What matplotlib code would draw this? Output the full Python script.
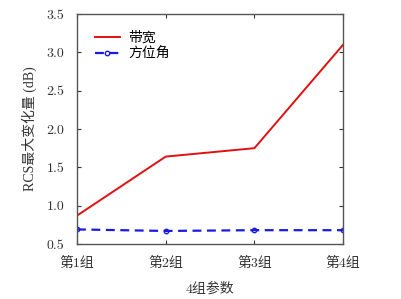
import matplotlib
matplotlib.use('Agg')
import matplotlib.pyplot as plt

groups = ['第1组', '第2组', '第3组', '第4组']
bandwidth = [0.87, 1.64, 1.75, 3.10]
azimuth = [0.69, 0.67, 0.68, 0.68]

plt.rcParams['font.family'] = ['cmr10', 'Noto Sans CJK SC', 'DejaVu Serif']
plt.rcParams['axes.formatter.use_mathtext'] = True

fig = plt.figure(figsize=(4.02, 2.99), dpi=100)
ax = fig.add_axes([0.1915, 0.184, 0.662, 0.769])

x = range(len(groups))
ax.plot(x, bandwidth, color='#e01010', lw=1.4, label='带宽')
ax.plot(x, azimuth, color='#1a1adf', lw=1.6, ls=(0, (4, 2.5)), marker='o',
        ms=3.2, mfc='none', mec='#1a1adf', mew=1.0, label='方位角')

ax.set_xlim(0, 3)
ax.set_ylim(0.5, 3.5)
ax.set_xticks(list(x))
ax.set_xticklabels(groups)
ax.set_yticks([0.5, 1.0, 1.5, 2.0, 2.5, 3.0, 3.5])
ax.set_yticklabels(['0.5', '1.0', '1.5', '2.0', '2.5', '3.0', '3.5'])
ax.tick_params(direction='in', top=True, right=True, length=3, width=0.8,
               labelsize=10, colors='#333333')
ax.tick_params(axis='x', pad=9)
ax.tick_params(axis='y', pad=9)
for s in ax.spines.values():
    s.set_color('#555555')
    s.set_linewidth(1.0)

ax.set_xlabel('4组参数', fontsize=10, color='#333333', labelpad=9)
ax.set_ylabel('RCS最大变化量 (dB)', fontsize=10, color='#333333', labelpad=7,
              family=['Liberation Serif', 'Noto Sans CJK SC'])

ax.legend(loc='upper left', frameon=False, fontsize=10, handlelength=1.8,
          handletextpad=0.6, bbox_to_anchor=(0.02, 0.98), labelspacing=0.25)

fig.savefig('out.png', dpi=100)
